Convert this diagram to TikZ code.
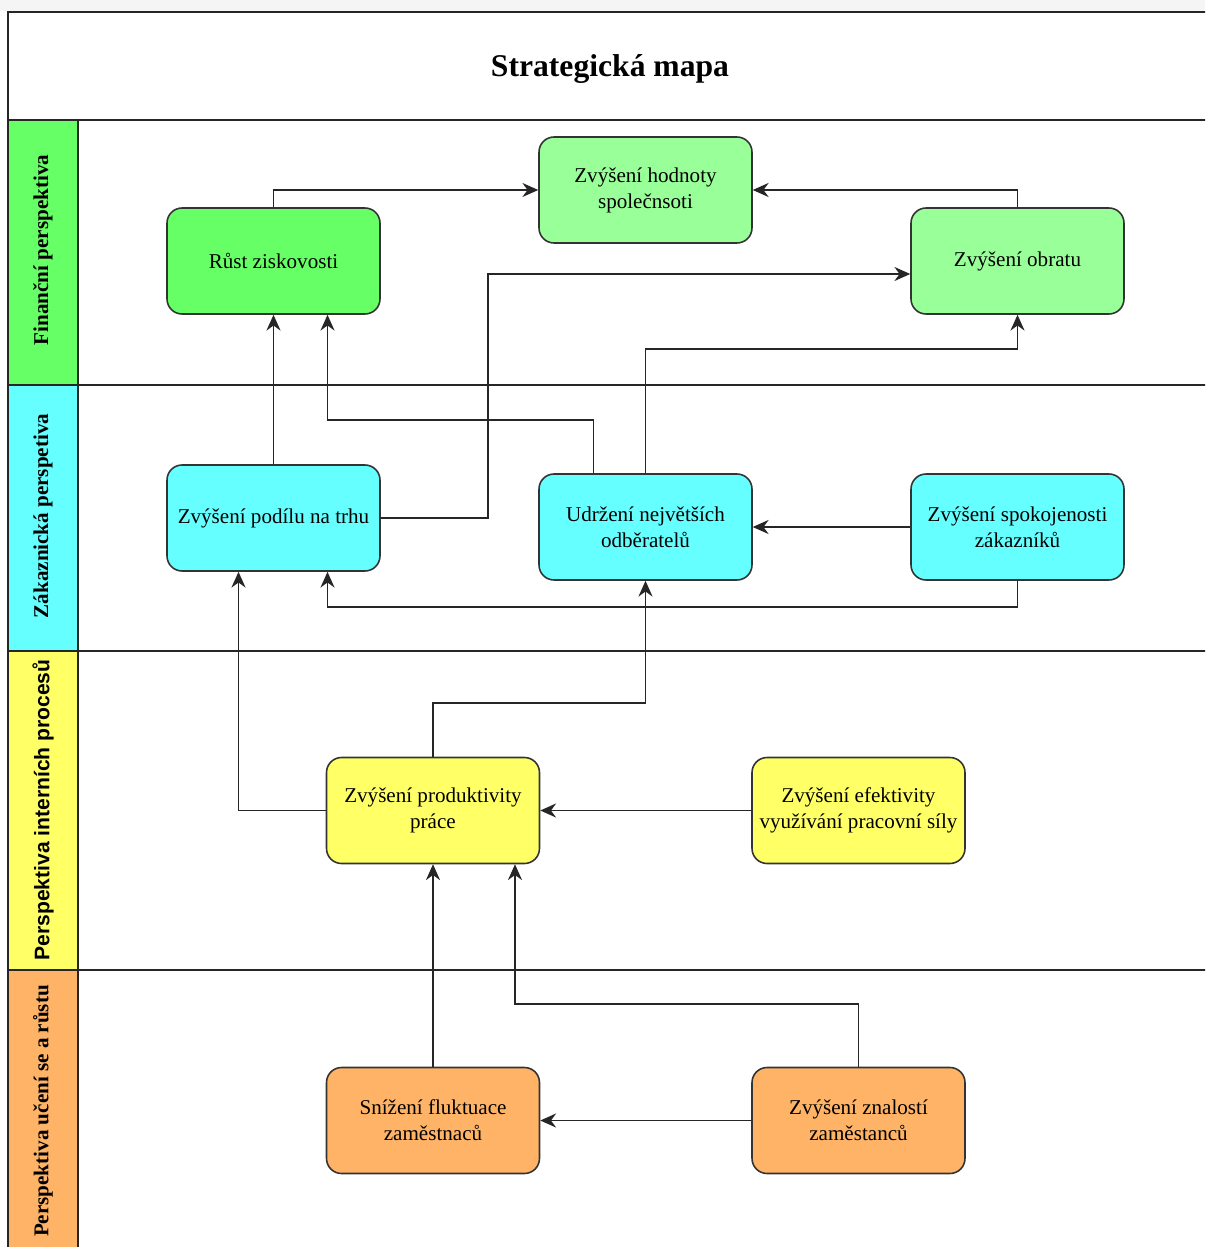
\documentclass[tikz,border=0pt]{standalone}
\usepackage{fontspec}
\setmainfont{Liberation Serif}
\newfontfamily\lanesans{Liberation Sans}
\usetikzlibrary{arrows.meta,calc}

\definecolor{finGreen}{HTML}{66FF66}
\definecolor{finLight}{HTML}{99FF99}
\definecolor{custCyan}{HTML}{66FFFF}
\definecolor{procYellow}{HTML}{FFFF66}
\definecolor{learnOrange}{HTML}{FFB366}

\begin{document}
\begin{tikzpicture}[x=0.02cm, y=-0.02cm,
  frame/.style={draw=black!85, line width=1.1pt},
  goal/.style={draw=black!80, line width=0.9pt, rounded corners=0.3cm,
    minimum width=4.26cm, minimum height=2.12cm, inner sep=1pt,
    align=center, font=\fontsize{12}{14.7}\selectfont},
  lanelabel/.style={rotate=90, font=\bfseries\fontsize{12}{14}\selectfont},
  arr/.style={-{Stealth[length=9pt,width=8pt]}, line width=0.9pt, draw=black!85}]
  \useasboundingbox (0,0) rectangle (1205,1247);
  \clip (0,0) rectangle (1205,1247);
  \fill[gray!8] (0,0) rectangle (1205,11);

  % header and lanes
  \fill[white] (8,12) rectangle (1205,1247);
  \filldraw[frame, fill=finGreen] (8,120) rectangle (78,385);
  \filldraw[frame, fill=custCyan] (8,385) rectangle (78,651);
  \filldraw[frame, fill=procYellow] (8,651) rectangle (78,970);
  \filldraw[frame, fill=learnOrange] (8,970) rectangle (78,1260);
  \draw[frame] (8,1260) -- (8,12) -- (1210,12);
  \foreach \y in {120,385,651,970}
    \draw[frame] (78,\y) -- (1210,\y);

  \node[font=\bfseries\fontsize{18}{20}\selectfont] (title) at (610,69) {Strategická mapa};

  \node[lanelabel] (finLbl) at (43,250) {Finanční perspektiva};
  \node[lanelabel] (custLbl) at (43,516) {Zákaznická perspetiva};
  \node[lanelabel, font=\lanesans\bfseries\fontsize{12}{14}\selectfont] (procLbl) at (43,810) {Perspektiva interních procesů};
  \node[lanelabel] (learnLbl) at (43,1111) {Perspektiva učení se a růstu};

  % goals
  \node[goal, fill=finGreen] (rust) at (273.5,261) {Růst ziskovosti};
  \node[goal, fill=finLight] (hodnota) at (645.5,190) {Zvýšení hodnoty\\společnsoti};
  \node[goal, fill=finLight] (obrat) at (1017.5,261) {Zvýšení obratu};

  \node[goal, fill=custCyan] (podil) at (273.5,518) {Zvýšení podílu na trhu};
  \node[goal, fill=custCyan] (udrzeni) at (645.5,527) {Udržení největších\\odběratelů};
  \node[goal, fill=custCyan] (spokojenost) at (1017.5,527) {Zvýšení spokojenosti\\zákazníků};

  \node[goal, fill=procYellow] (produktivita) at (433,810.5) {Zvýšení produktivity\\práce};
  \node[goal, fill=procYellow] (efektivita) at (858.5,810.5) {Zvýšení efektivity\\využívání pracovní síly};

  \node[goal, fill=learnOrange] (fluktuace) at (433,1120.5) {Snížení fluktuace\\zaměstnaců};
  \node[goal, fill=learnOrange] (znalosti) at (858.5,1120.5) {Zvýšení znalostí\\zaměstanců};

  % connectors
  \draw[arr] (rust.north) |- (hodnota.west);
  \draw[arr] (obrat.north) |- (hodnota.east);
  \draw[arr] (podil.east) -- ++(107,0) |- ($(obrat.west)+(0,13)$);
  \draw[arr] (udrzeni.north) -- ++(0,-124) -| (obrat.south);
  \draw[arr] (podil.north) -- (rust.south);
  \draw[arr] ($(udrzeni.north)+(-52,0)$) -- ++(0,-53) -| ($(rust.south)+(54,0)$);
  \draw[arr] (spokojenost.west) -- (udrzeni.east);
  \draw[arr] (spokojenost.south) -- ++(0,26) -| ($(podil.south)+(54,0)$);
  \draw[arr] (produktivita.north) -- ++(0,-54) -| (udrzeni.south);
  \draw[arr] (produktivita.west) -| ($(podil.south)+(-35,0)$);
  \draw[arr] (efektivita.west) -- (produktivita.east);
  \draw[arr] (fluktuace.north) -- (produktivita.south);
  \draw[arr] (znalosti.north) -- ++(0,-63) -| ($(produktivita.south)+(82,0)$);
  \draw[arr] (znalosti.west) -- (fluktuace.east);
\end{tikzpicture}
\end{document}
